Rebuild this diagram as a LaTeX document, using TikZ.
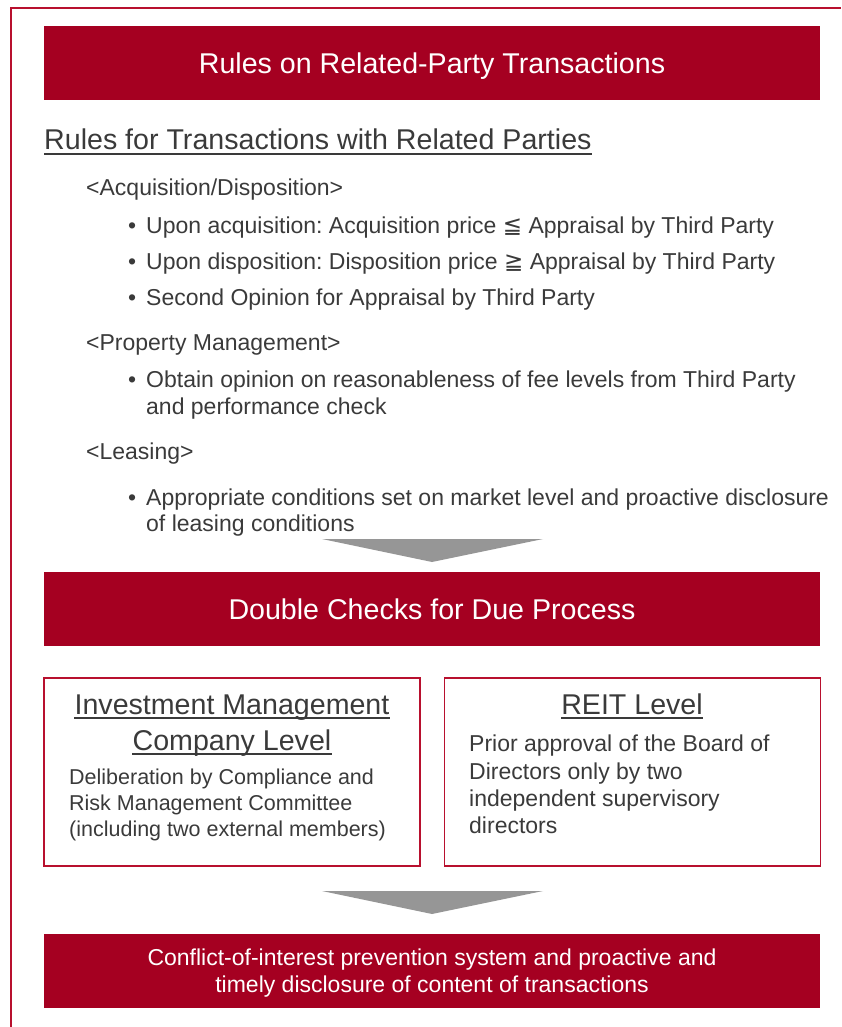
\documentclass[tikz,border=0pt]{standalone}
\usepackage{fontspec}
\setmainfont{Liberation Sans}
\newfontfamily\relfont{DejaVu Sans}
\usetikzlibrary{positioning, calc}

\definecolor{barred}{HTML}{A50021}
\definecolor{linered}{HTML}{B8102E}
\definecolor{txtgray}{HTML}{3A3A3A}
\definecolor{arrgray}{HTML}{969696}

\begin{document}
\frenchspacing
\begin{tikzpicture}[x=1pt, y=-1pt,
  redbar/.style={fill=barred, text=white, minimum width=776pt,
                 minimum height=74pt, inner sep=0pt, align=center,
                 text depth=0pt},
  levelbox/.style={draw=linered, line width=1.2pt, minimum width=376pt,
                   minimum height=188pt, inner sep=0pt},
  bigtxt/.style={text=txtgray, inner sep=0pt, font=\fontsize{28.6}{34}\selectfont},
  listtxt/.style={text=txtgray, inner sep=0pt, anchor=base west,
                  font=\fontsize{23}{27}\selectfont},
  ul/.style={txtgray, line width=1.6pt},
  pointer/.style={fill=arrgray}]
  \useasboundingbox (0,0) rectangle (841,1027);
  \def\bull#1#2#3{
    \node[listtxt] (#1b) at (128,#2) {•};
    \node[listtxt] (#1) at (146,#2) {#3};
  }
  \def\uline#1{
    \draw[ul] ($(#1.base west)+(0,4)$) -- ($(#1.base east)+(0,4)$);
  }

  % outer frame
  \draw[linered, line width=2pt] (11,1027) -- (11,8) -- (841,8);

  % red bars
  \node[redbar, font=\fontsize{28.6}{34}\selectfont] (rules) at (432,63)
    {Rules on Related-Party Transactions};
  \node[redbar, font=\fontsize{28.6}{34}\selectfont] (dbl) at (432,609)
    {Double Checks for Due Process};
  \node[redbar, font=\fontsize{23}{27}\selectfont] (cip) at (432,971)
    {Conflict-of-interest prevention system and proactive and\\
     timely disclosure of content of transactions};

  % rules list
  \node[bigtxt, anchor=base west] (rtrp) at (44,150)
    {Rules for Transactions with Related Parties};
  \uline{rtrp}
  \node[listtxt] (acq) at (86,195) {<Acquisition/Disposition>};
  \bull{acq1}{233}{Upon acquisition: Acquisition price {\relfont ≦} Appraisal by Third Party}
  \bull{acq2}{269}{Upon disposition: Disposition price {\relfont ≧} Appraisal by Third Party}
  \bull{acq3}{305}{Second Opinion for Appraisal by Third Party}
  \node[listtxt] (pm) at (86,350) {<Property Management>};
  \bull{pm1}{387}{Obtain opinion on reasonableness of fee levels from Third Party}
  \node[listtxt] (pm2) at (146,414) {and performance check};
  \node[listtxt] (ls) at (86,459) {<Leasing>};
  \bull{ls1}{505}{Appropriate conditions set on market level and proactive disclosure}
  \node[listtxt] (ls2) at (146,531) {of leasing conditions};

  \fill[pointer] (322,539) -- (543,539) -- (432,562) -- cycle;

  % two levels
  \node[levelbox] (imc) at (232,772) {};
  \node[levelbox] (reit) at (632.5,772) {};
  \node[bigtxt, anchor=base] (imch1) at (232,714) {Investment Management};
  \uline{imch1}
  \node[bigtxt, anchor=base] (imch2) at (232,750) {Company Level};
  \uline{imch2}
  \node[listtxt, font=\fontsize{21.5}{26}\selectfont] (imc1) at (69,784)
    {Deliberation by Compliance and};
  \node[listtxt, font=\fontsize{21.5}{26}\selectfont] (imc2) at (69,810)
    {Risk Management Committee};
  \node[listtxt, font=\fontsize{21.5}{26}\selectfont] (imc3) at (69,836)
    {(including two external members)};
  \node[bigtxt, anchor=base] (reith) at (632,714) {REIT Level};
  \uline{reith}
  \node[listtxt] (reit1) at (469,751) {Prior approval of the Board of};
  \node[listtxt] (reit2) at (469,779) {Directors only by two};
  \node[listtxt] (reit3) at (469,806) {independent supervisory};
  \node[listtxt] (reit4) at (469,833) {directors};

  \fill[pointer] (322,891) -- (543,891) -- (432,914) -- cycle;
\end{tikzpicture}
\end{document}
